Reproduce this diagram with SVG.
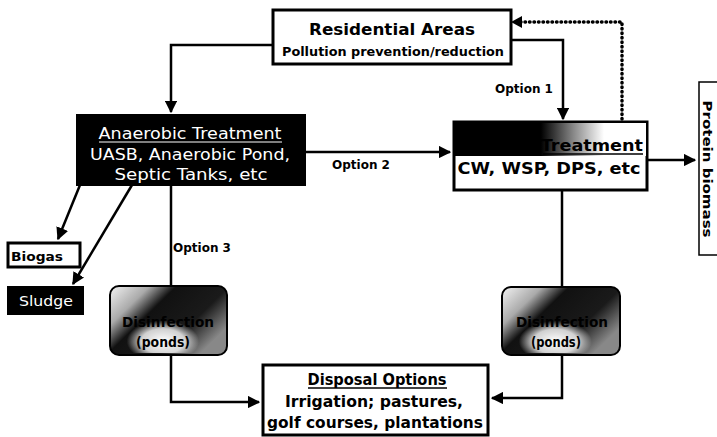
<svg xmlns="http://www.w3.org/2000/svg" width="717" height="437" viewBox="0 0 717 437">
<defs>
<marker id="arr" viewBox="0 0 10 10" refX="9" refY="5" markerWidth="5" markerHeight="5" orient="auto" markerUnits="strokeWidth">
<path d="M0,0 L10,5 L0,10 z" fill="#000"/>
</marker>
<linearGradient id="aeroHead" x1="0" y1="0" x2="1" y2="0">
<stop offset="0" stop-color="#000"/>
<stop offset="0.45" stop-color="#000"/>
<stop offset="0.62" stop-color="#888"/>
<stop offset="0.78" stop-color="#fff"/>
<stop offset="1" stop-color="#fff"/>
</linearGradient>
<linearGradient id="disGrad" x1="0" y1="0" x2="1" y2="0.6">
<stop offset="0" stop-color="#f4f4f4"/>
<stop offset="0.25" stop-color="#aaa"/>
<stop offset="0.42" stop-color="#111"/>
<stop offset="0.75" stop-color="#1a1a1a"/>
<stop offset="1" stop-color="#888"/>
</linearGradient>
<radialGradient id="disLight" cx="0.45" cy="0.82" r="0.32">
<stop offset="0" stop-color="#fff"/>
<stop offset="0.6" stop-color="#fff" stop-opacity="0.8"/>
<stop offset="1" stop-color="#fff" stop-opacity="0"/>
</radialGradient>
</defs>
<style>
.ln{fill:none;stroke:#000;stroke-width:2.5}
.dot{fill:none;stroke:#000;stroke-width:3.5;stroke-dasharray:0.5 4;stroke-linecap:round}
.box{fill:#fff;stroke:#000;stroke-width:3}
.blk{fill:#000;stroke:#000;stroke-width:2}
.t{font-family:"DejaVu Sans","Liberation Sans",sans-serif;text-anchor:middle}
.b{font-weight:bold;fill:#000}
.w{fill:#fff}
.lab{font-family:"DejaVu Sans","Liberation Sans",sans-serif;font-size:12px;font-weight:bold;fill:#000}
</style>
<g id="connectors">
<polyline class="ln" points="273,45 171,45 171,112" marker-end="url(#arr)"/>
<polyline class="ln" points="511,40 563,40 563,119" marker-end="url(#arr)"/>
<polyline class="dot" points="622,119 622,22 520,22"/>
<path d="M511,22 L522,16 L522,28 z" fill="#000"/>
<line class="ln" x1="305" y1="152" x2="450" y2="152" marker-end="url(#arr)"/>
<line class="ln" x1="647" y1="160" x2="695" y2="160" marker-end="url(#arr)"/>
<line class="ln" x1="80" y1="185" x2="58" y2="239" marker-end="url(#arr)"/>
<line class="ln" x1="132" y1="185" x2="73" y2="284" marker-end="url(#arr)"/>
<line class="ln" x1="171" y1="185" x2="171" y2="286"/>
<polyline class="ln" points="171,355 171,402 259,402" marker-end="url(#arr)"/>
<line class="ln" x1="562" y1="190" x2="562" y2="287"/>
<polyline class="ln" points="562,355 562,398 492,398" marker-end="url(#arr)"/>
<text class="lab" x="495" y="93">Option 1</text>
<text class="lab" x="332" y="169">Option 2</text>
<text class="lab" x="173" y="252">Option 3</text>
</g>
<g id="residential">
<rect class="box" x="273" y="10" width="238" height="54"/>
<text class="t b" x="392" y="35" font-size="16" textLength="166" lengthAdjust="spacingAndGlyphs">Residential Areas</text>
<text class="t b" x="393" y="56" font-size="12" textLength="222" lengthAdjust="spacingAndGlyphs">Pollution prevention/reduction</text>
</g>
<g id="anaerobic">
<rect class="blk" x="77" y="115" width="228" height="70"/>
<text class="t w" x="190" y="139" font-size="15" textLength="183" lengthAdjust="spacingAndGlyphs">Anaerobic Treatment</text>
<line x1="99" y1="142" x2="282" y2="142" stroke="#fff" stroke-width="1"/>
<text class="t w" x="190" y="160" font-size="15" textLength="200" lengthAdjust="spacingAndGlyphs">UASB, Anaerobic Pond,</text>
<text class="t w" x="191" y="180" font-size="15" textLength="153" lengthAdjust="spacingAndGlyphs">Septic Tanks, etc</text>
</g>
<g id="aerobic">
<rect class="box" x="454" y="122" width="193" height="68"/>
<rect x="455" y="123" width="191" height="33" fill="url(#aeroHead)"/>
<text class="t b" x="551" y="151" font-size="16" textLength="184" lengthAdjust="spacingAndGlyphs">Aerobic Treatment</text>
<line x1="543" y1="154" x2="643" y2="154" stroke="#000" stroke-width="1.5"/>
<text class="t b" x="549" y="174" font-size="16" textLength="183" lengthAdjust="spacingAndGlyphs">CW, WSP, DPS, etc</text>
</g>
<g id="protein">
<rect x="699" y="82" width="30" height="173" fill="#fff" stroke="#000" stroke-width="1.5"/>
<text class="t b" transform="translate(703,169) rotate(90)" font-size="13" textLength="137" lengthAdjust="spacingAndGlyphs">Protein biomass</text>
</g>
<g id="biogas">
<rect class="box" x="8" y="243" width="72" height="24"/>
<text class="t b" x="37" y="261" font-size="13" textLength="52" lengthAdjust="spacingAndGlyphs">Biogas</text>
</g>
<g id="sludge">
<rect class="blk" x="8" y="287" width="75" height="27"/>
<text class="t w" x="46" y="306" font-size="14" textLength="54" lengthAdjust="spacingAndGlyphs">Sludge</text>
</g>
<g id="disinfection-left">
<rect x="110" y="286" width="117" height="69" rx="9" fill="url(#disGrad)" stroke="#000" stroke-width="2"/>
<rect x="112" y="288" width="113" height="65" rx="8" fill="url(#disLight)"/>
<text class="t b" x="168" y="327" font-size="14" textLength="92" lengthAdjust="spacingAndGlyphs">Disinfection</text>
<text class="t b" x="163" y="347" font-size="14" textLength="54" lengthAdjust="spacingAndGlyphs">(ponds)</text>
</g>
<g id="disinfection-right">
<rect x="502" y="287" width="118" height="68" rx="9" fill="url(#disGrad)" stroke="#000" stroke-width="2"/>
<rect x="504" y="289" width="114" height="64" rx="8" fill="url(#disLight)"/>
<text class="t b" x="562" y="327" font-size="14" textLength="92" lengthAdjust="spacingAndGlyphs">Disinfection</text>
<text class="t b" x="556" y="347" font-size="14" textLength="50" lengthAdjust="spacingAndGlyphs">(ponds)</text>
</g>
<g id="disposal">
<rect class="box" x="263" y="365" width="225" height="70"/>
<text class="t b" x="377" y="385" font-size="15" textLength="139" lengthAdjust="spacingAndGlyphs">Disposal Options</text>
<line x1="308" y1="388" x2="447" y2="388" stroke="#000" stroke-width="1.5"/>
<text class="t b" x="374" y="407" font-size="15" textLength="178" lengthAdjust="spacingAndGlyphs">Irrigation; pastures,</text>
<text class="t b" x="375" y="428" font-size="15" textLength="216" lengthAdjust="spacingAndGlyphs">golf courses, plantations</text>
</g>
</svg>
